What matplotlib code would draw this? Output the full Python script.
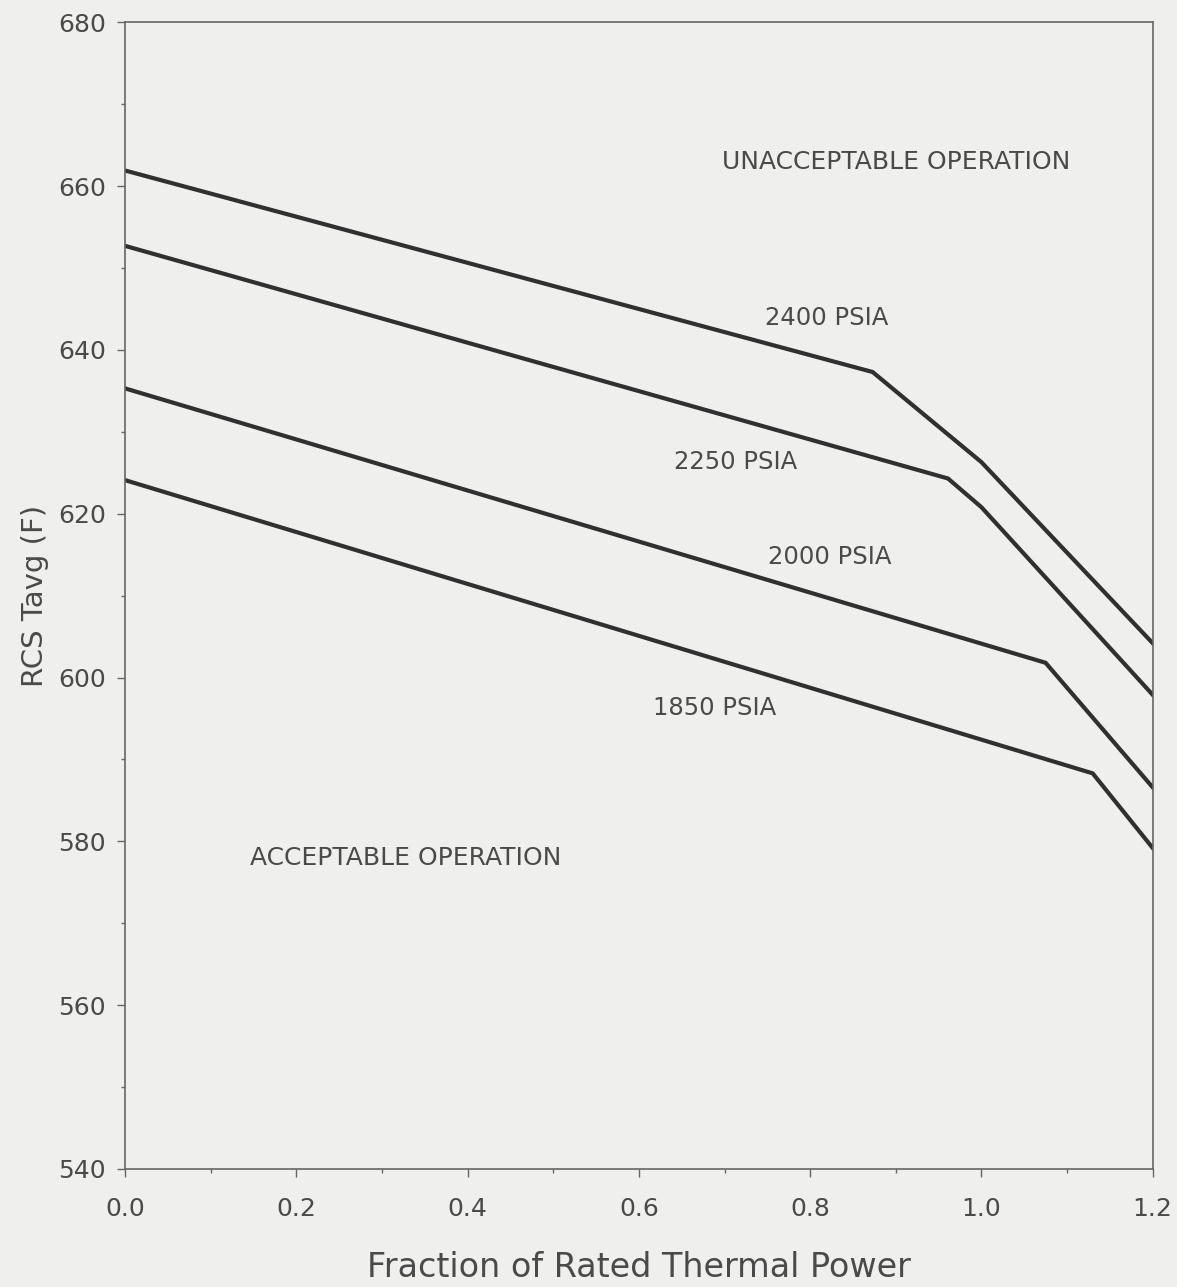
import matplotlib
matplotlib.use("Agg")
import matplotlib.pyplot as plt
from matplotlib.ticker import MultipleLocator

# breakpoints of each limit curve (fraction of power, Tavg F)
x_2400 = [0.0, 0.873, 1.0, 1.2]
y_2400 = [661.9, 637.3, 626.3, 604.2]
x_2250 = [0.0, 0.961, 1.0, 1.2]
y_2250 = [652.7, 624.3, 620.8, 597.9]
x_2000 = [0.0, 1.075, 1.2]
y_2000 = [635.3, 601.8, 586.6]
x_1850 = [0.0, 1.13, 1.2]
y_1850 = [624.1, 588.3, 579.2]

curve_labels = ["2400 PSIA", "2250 PSIA", "2000 PSIA", "1850 PSIA"]
label_pos = [(0.819, 643.9), (0.713, 626.3), (0.823, 614.7), (0.688, 596.3)]

xticks = [0.0, 0.2, 0.4, 0.6, 0.8, 1.0, 1.2]
yticks = [540, 560, 580, 600, 620, 640, 660, 680]

bg = "#efefed"
ink = "#303030"
txt = "#4a4a4a"
plt.rcParams['font.family'] = ['DejaVu Sans']

fig = plt.figure(figsize=(11.77, 12.87), dpi=100, facecolor=bg)
ax = fig.add_axes([0.1063, 0.0917, 0.873, 0.891], facecolor=bg)

for xs, ys in [(x_2400, y_2400), (x_2250, y_2250), (x_2000, y_2000), (x_1850, y_1850)]:
    ax.plot(xs, ys, color=ink, lw=3.0, solid_joinstyle='miter')

for lab, (lx, ly) in zip(curve_labels, label_pos):
    ax.text(lx, ly, lab, ha='center', va='center', fontsize=17.5, color=txt)

ax.text(0.900, 662.9, "UNACCEPTABLE OPERATION", ha='center', va='center', fontsize=18, color=txt)
ax.text(0.328, 578.0, "ACCEPTABLE OPERATION", ha='center', va='center', fontsize=18, color=txt)

ax.set_xlim(0, 1.2)
ax.set_ylim(540, 680)
ax.set_xticks(xticks)
ax.set_xticklabels([f"{v:.1f}" for v in xticks])
ax.set_yticks(yticks)
ax.yaxis.set_minor_locator(MultipleLocator(10))
ax.xaxis.set_minor_locator(MultipleLocator(0.1))
ax.tick_params(axis='both', which='major', direction='out', length=6, width=1,
               color='#666666', labelsize=18, labelcolor=txt)
ax.tick_params(axis='x', which='major', pad=14)
ax.tick_params(axis='y', which='major', pad=8)
ax.tick_params(axis='both', which='minor', direction='out', length=3, width=1, color='#666666')
for s in ax.spines.values():
    s.set_color('#666666')
    s.set_linewidth(1.2)

ax.set_xlabel("Fraction of Rated Thermal Power", fontsize=24, color=txt, labelpad=22)
ax.set_ylabel("RCS Tavg (F)", fontsize=21, color=txt, labelpad=6)

fig.savefig("out.png", dpi=100, facecolor=bg)
